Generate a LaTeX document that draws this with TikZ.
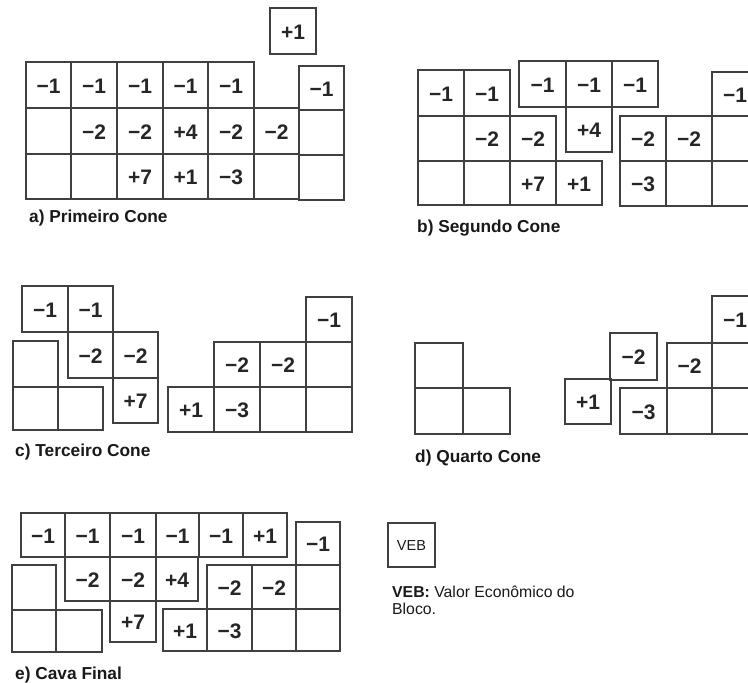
\documentclass[tikz,border=0pt]{standalone}
\usepackage{fontspec}
\setmainfont{Liberation Sans}
\tikzset{
  cellline/.style={draw=black!75, line width=1.2pt, line join=miter},
  num/.style={inner sep=0pt, font=\fontsize{21}{23}\selectfont\bfseries, text=black!85},
  captxt/.style={anchor=west, inner sep=0pt, font=\fontsize{17.3}{19}\selectfont\bfseries, text=black!90},
  legtxt/.style={anchor=west, inner sep=0pt, font=\fontsize{15.8}{17}\selectfont, text=black!90}
}
\newcommand\cb[6]{%
  \draw[cellline] (#2,#3) rectangle (#4,#5);
  \node[num] (#1) at ({(#2+#4)/2},{(#3+#5)/2+1}) {#6};}
\begin{document}
\begin{tikzpicture}[x=1pt,y=-1pt]
\useasboundingbox[fill=white] (0,0) rectangle (748,683);
% ---------- a) Primeiro Cone
\cb{aT}{270}{8}{316}{54}{+1}
\cb{a00}{26}{62}{71}{108}{−1}
\cb{a01}{71}{62}{117}{108}{−1}
\cb{a02}{117}{62}{163}{108}{−1}
\cb{a03}{163}{62}{208}{108}{−1}
\cb{a04}{208}{62}{254}{108}{−1}
\cb{a10}{26}{108}{71}{154}{}
\cb{a11}{71}{108}{117}{154}{−2}
\cb{a12}{117}{108}{163}{154}{−2}
\cb{a13}{163}{108}{208}{154}{+4}
\cb{a14}{208}{108}{254}{154}{−2}
\cb{a15}{254}{108}{299}{154}{−2}
\cb{a20}{26}{154}{71}{199}{}
\cb{a21}{71}{154}{117}{199}{}
\cb{a22}{117}{154}{163}{199}{+7}
\cb{a23}{163}{154}{208}{199}{+1}
\cb{a24}{208}{154}{254}{199}{−3}
\cb{a25}{254}{154}{299}{199}{}
\cb{a06}{299}{66}{344}{110}{−1}
\cb{a16}{299}{110}{344}{155}{}
\cb{a26}{299}{155}{344}{200}{}
\node[captxt] (capa) at (29,218) {a) Primeiro Cone};
% ---------- b) Segundo Cone
\cb{b00}{418}{70}{464}{116}{−1}
\cb{b01}{464}{70}{510}{116}{−1}
\cb{b10}{418}{116}{464}{161}{}
\cb{b11}{464}{116}{510}{161}{−2}
\cb{b12}{510}{116}{556}{161}{−2}
\cb{b20}{418}{161}{464}{205}{}
\cb{b21}{464}{161}{510}{205}{}
\cb{b22}{510}{161}{556}{205}{+7}
\cb{b23}{556}{161}{602}{205}{+1}
\cb{bm0}{519}{61}{566}{107}{−1}
\cb{bm1}{566}{61}{612}{107}{−1}
\cb{bm2}{612}{61}{658}{107}{−1}
\cb{bm3}{566}{107}{612}{152}{+4}
\cb{br0}{712}{72}{758}{116}{−1}
\cb{br1}{620}{116}{666}{161}{−2}
\cb{br2}{666}{116}{712}{161}{−2}
\cb{br3}{712}{116}{758}{161}{}
\cb{br4}{620}{161}{666}{206}{−3}
\cb{br5}{666}{161}{712}{206}{}
\cb{br6}{712}{161}{758}{206}{}
\node[captxt] (capb) at (417,228) {b) Segundo Cone};
% ---------- c) Terceiro Cone
\cb{c00}{22}{286}{68}{332}{−1}
\cb{c01}{68}{286}{113}{332}{−1}
\cb{c11}{68}{332}{113}{378}{−2}
\cb{c12}{113}{332}{158}{378}{−2}
\cb{c22}{113}{378}{158}{423}{+7}
\cb{cl0}{13}{341}{58}{387}{}
\cb{cl1}{13}{387}{58}{430}{}
\cb{cl2}{58}{387}{103}{430}{}
\cb{cr0}{306}{297}{352}{342}{−1}
\cb{cr1}{214}{342}{260}{387}{−2}
\cb{cr2}{260}{342}{306}{387}{−2}
\cb{cr3}{306}{342}{352}{387}{}
\cb{cr4}{168}{387}{214}{432}{+1}
\cb{cr5}{214}{387}{260}{432}{−3}
\cb{cr6}{260}{387}{306}{432}{}
\cb{cr7}{306}{387}{352}{432}{}
\node[captxt] (capc) at (15,452) {c) Terceiro Cone};
% ---------- d) Quarto Cone
\cb{dl0}{415}{343}{463}{388}{}
\cb{dl1}{415}{388}{463}{434}{}
\cb{dl2}{463}{388}{510}{434}{}
\cb{dp}{565}{379}{611}{424}{+1}
\cb{dm}{610}{333}{657}{380}{−2}
\cb{dr0}{620}{388}{667}{434}{−3}
\cb{dr1}{667}{343}{712}{388}{−2}
\cb{dr2}{667}{388}{712}{434}{}
\cb{dr3}{712}{296}{758}{343}{−1}
\cb{dr4}{712}{343}{758}{388}{}
\cb{dr5}{712}{388}{758}{434}{}
\node[captxt] (capd) at (415,458) {d) Quarto Cone};
% ---------- e) Cava Final
\cb{e00}{21}{513}{65}{557}{−1}
\cb{e01}{65}{513}{110}{557}{−1}
\cb{e02}{110}{513}{156}{557}{−1}
\cb{e03}{156}{513}{199}{557}{−1}
\cb{e04}{199}{513}{243}{557}{−1}
\cb{e05}{243}{513}{287}{557}{+1}
\cb{e11}{65}{557}{110}{601}{−2}
\cb{e12}{110}{557}{156}{601}{−2}
\cb{e13}{156}{557}{198}{601}{+4}
\cb{e22}{110}{601}{156}{642}{+7}
\cb{el0}{12}{565}{56}{610}{}
\cb{el1}{12}{610}{56}{652}{}
\cb{el2}{56}{610}{102}{652}{}
\cb{er0}{296}{522}{340}{565}{−1}
\cb{er1}{207}{565}{252}{609}{−2}
\cb{er2}{252}{565}{296}{609}{−2}
\cb{er3}{296}{565}{340}{609}{}
\cb{er4}{163}{609}{207}{651}{+1}
\cb{er5}{207}{609}{252}{651}{−3}
\cb{er6}{252}{609}{296}{651}{}
\cb{er7}{296}{609}{340}{651}{}
\node[captxt] (cape) at (15,675) {e) Cava Final};
% ---------- legend
\draw[cellline] (388,523) rectangle (435,567);
\node[inner sep=0pt, font=\fontsize{14.5}{16}\selectfont, text=black!90] (veb) at (411.5,546) {VEB};
\node[legtxt] (leg1) at (392,592) {\textbf{VEB:} Valor Econômico do};
\node[legtxt] (leg2) at (392,609) {Bloco.};
\end{tikzpicture}
\end{document}
